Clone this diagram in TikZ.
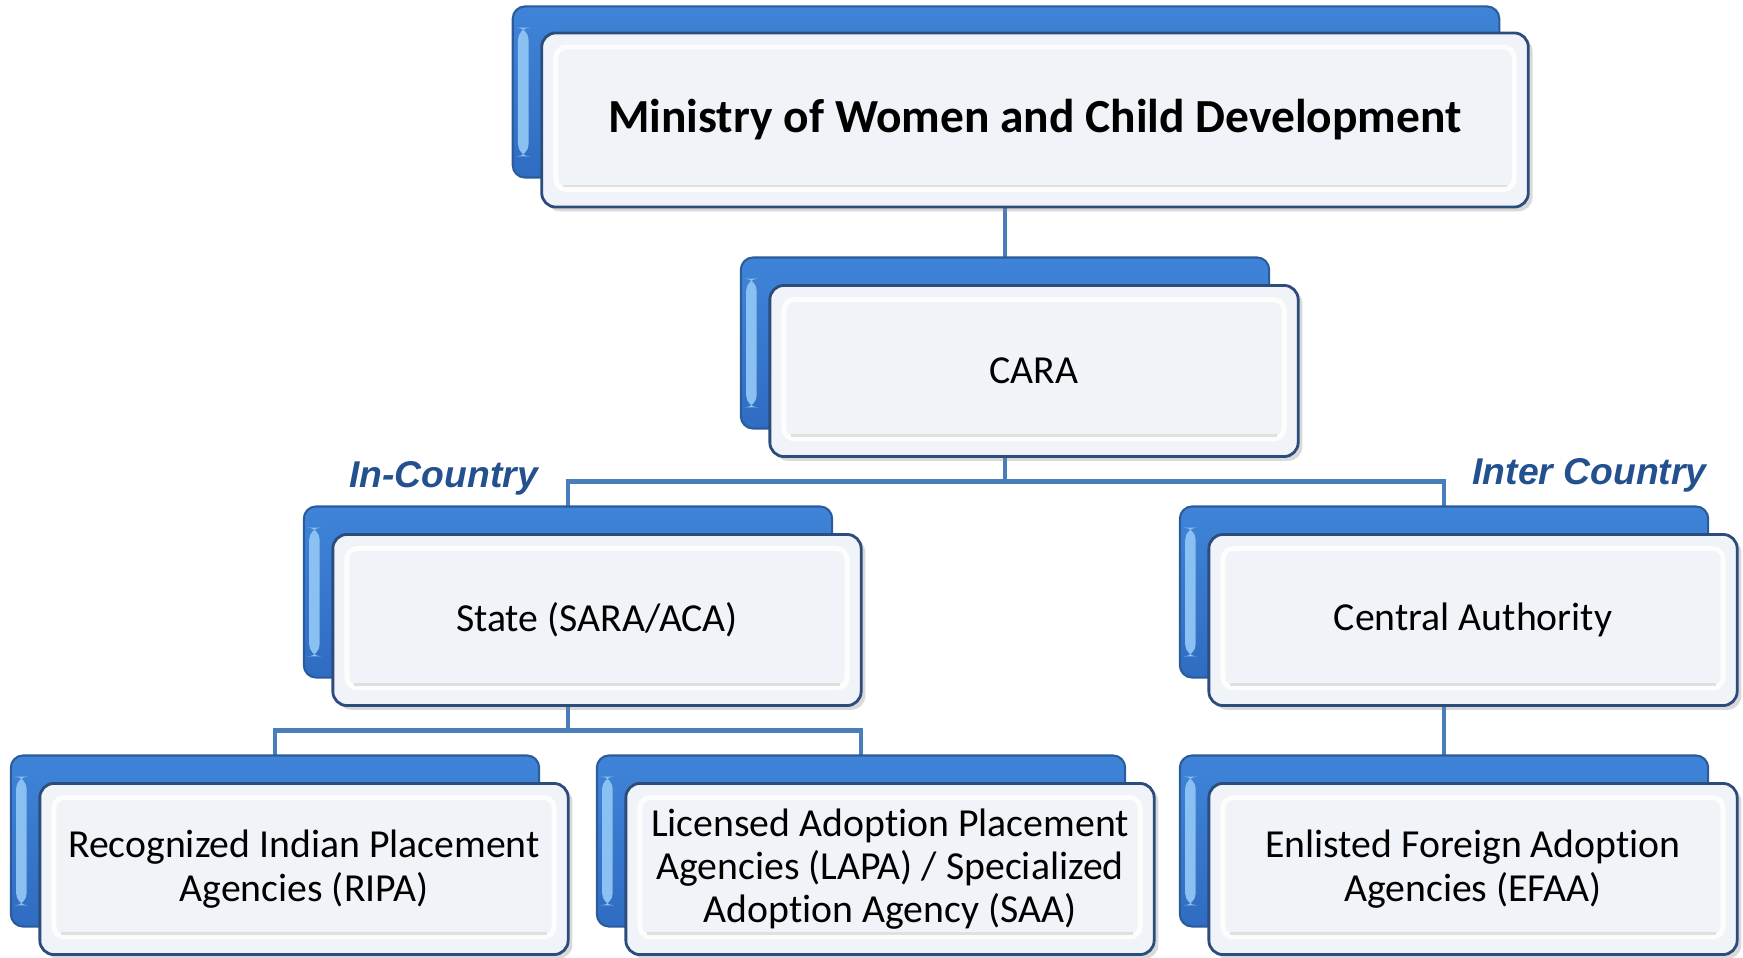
\documentclass[tikz,border=0pt]{standalone}
\usepackage{fontspec}
\setmainfont{Carlito}[Ligatures=NoCommon]
\newfontfamily\labelfont{Liberation Sans}
\usepackage{tikz}
\usetikzlibrary{shadows,calc,positioning}
\usepackage{xcolor}
\definecolor{linkblue}{HTML}{4A7EBB}
\definecolor{backtop}{HTML}{3F84D8}
\definecolor{backbot}{HTML}{2F6CC2}
\definecolor{backline}{HTML}{2A5C9C}
\definecolor{bevel}{HTML}{8CC2F2}
\definecolor{frontfill}{HTML}{F0F3F8}
\definecolor{frontline}{HTML}{2C4C7C}
\definecolor{labelblue}{HTML}{23508E}
\tikzstyle{link} = [linkblue, line width=1.4pt]
\tikzstyle{backbox} = [rectangle, rounded corners=3.5pt, draw=backline, line width=0.6pt,
  top color=backtop, bottom color=backbot, minimum height=1.71cm,
  path picture={\shade[left color=bevel, right color=backtop]
    ([xshift=1.5pt,yshift=-6pt]path picture bounding box.north west) rectangle
    ([xshift=4.5pt,yshift=6pt]path picture bounding box.south west);}]
\tikzstyle{frontbox} = [rectangle, rounded corners=4pt, draw=frontline, line width=0.8pt,
  fill=frontfill, minimum width=5.28cm, minimum height=1.71cm,
  align=center, font=\fontsize{11.3}{12.3}\selectfont,
  drop shadow={shadow xshift=1.2pt, shadow yshift=-1.2pt, opacity=0.3},
  path picture={\draw[white, line width=1.4pt, rounded corners=3pt, opacity=0.9]
    ([shift={(4pt,-4pt)}]path picture bounding box.north west) rectangle
    ([shift={(-4pt,5pt)}]path picture bounding box.south east);
    \draw[black!12, line width=0.6pt]
    ([shift={(6pt,6pt)}]path picture bounding box.south west) --
    ([shift={(-6pt,6pt)}]path picture bounding box.south east);}]
\tikzstyle{branch} = [font=\labelfont\fontsize{10.6}{12}\selectfont\bfseries\itshape, text=labelblue]
\pgfdeclarelayer{links}
\pgfdeclarelayer{backs}
\pgfsetlayers{links,backs,main}

\begin{document}
\begin{tikzpicture}[x=0.01cm,y=-0.01cm]
\useasboundingbox (0,0) rectangle (1743,958);

% front boxes
\node[frontbox, minimum width=9.86cm, minimum height=1.74cm,
  font=\fontsize{13.5}{16}\selectfont\bfseries] (min) at (1035,120)
  {Ministry of Women and Child Development};
\node[frontbox] (cara) at (1034,371) {CARA};
\node[frontbox] (state) at (597,620) {State (SARA/ACA)};
\node[frontbox] (central) at (1473,620) {Central Authority};
\node[frontbox] (ripa) at (304,869) {Recognized Indian Placement\\Agencies (RIPA)};
\node[frontbox] (lapa) at (890,869)
  {Licensed Adoption Placement\\Agencies (LAPA) / Specialized\\Adoption Agency (SAA)};
\node[frontbox] (efaa) at (1473,869) {Enlisted Foreign Adoption\\Agencies (EFAA)};

% blue boxes behind
\begin{pgfonlayer}{backs}
\foreach \n/\w in {min/9.86cm,cara/5.28cm,state/5.28cm,central/5.28cm,ripa/5.28cm,lapa/5.28cm,efaa/5.28cm}
  \node[backbox, minimum width=\w] (\n B) at ([shift={(-29,-28)}]\n) {};
\end{pgfonlayer}

% branch labels
\node[branch, anchor=west] (incountry) at (337,478) {In-Country};
\node[branch, anchor=east] (intercountry) at (1719,475) {Inter Country};

% connectors
\begin{pgfonlayer}{links}
\coordinate (bus1) at ($(cara.south)!.5!(stateB.north)$);
\coordinate (bus2) at ($(state.south)!.5!(ripaB.north)$);
\draw[link] (caraB.center) -- (caraB.center |- minB.center);
\draw[link] (caraB.center) -- (caraB.center |- bus1) -| (stateB.center);
\draw[link] (caraB.center |- bus1) -| (centralB.center);
\draw[link] (stateB.center) -- (stateB.center |- bus2) -| (ripaB.center);
\draw[link] (stateB.center |- bus2) -| (lapaB.center);
\draw[link] (centralB.center) -- (efaaB.center);
\end{pgfonlayer}
\end{tikzpicture}
\end{document}
